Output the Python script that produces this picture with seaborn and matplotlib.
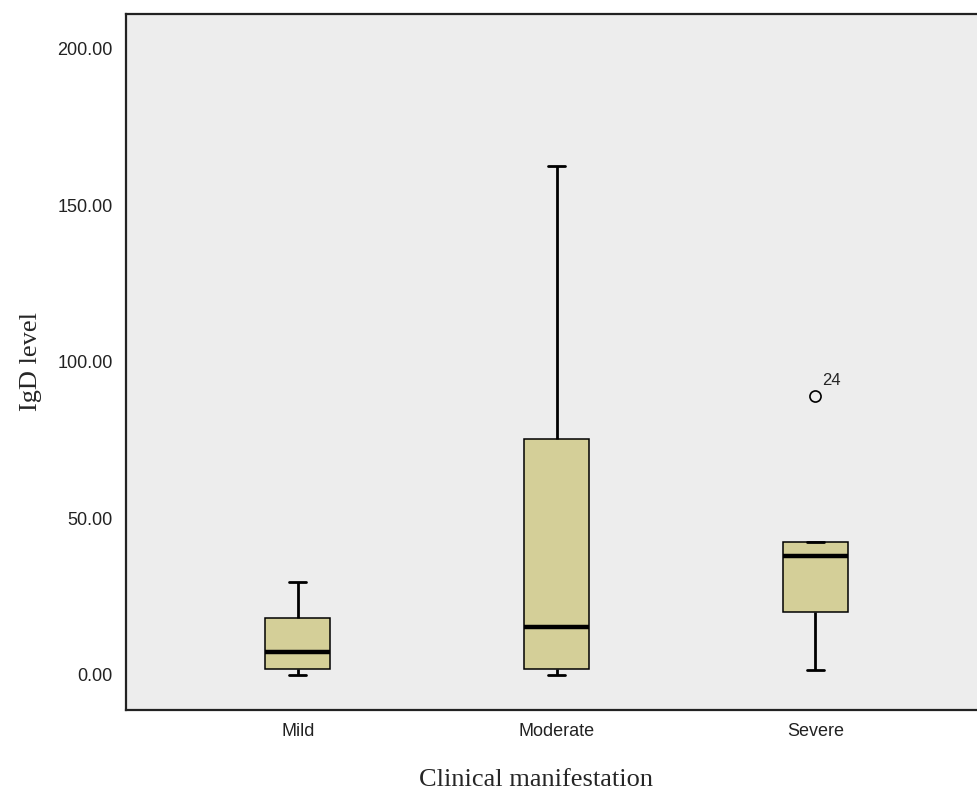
import numpy as np
import pandas as pd
import matplotlib
matplotlib.use("Agg")
import matplotlib.pyplot as plt
import seaborn as sns

categories = ["Mild", "Moderate", "Severe"]
mild_vals = [0.0, 1.9, 7.3, 18.1, 29.5]
moderate_vals = [0.0, 1.9, 15.3, 75.4, 162.7]
severe_vals = [1.6, 20.2, 20.2, 30.0, 38.1, 42.3, 42.3, 42.3, 89.2]
outlier_label = "24"
outlier_value = 89.2
yticks = [0, 50, 100, 150, 200]

df = pd.DataFrame({
    "group": (["Mild"] * len(mild_vals) + ["Moderate"] * len(moderate_vals)
              + ["Severe"] * len(severe_vals)),
    "value": mild_vals + moderate_vals + severe_vals,
})

sns.set_style("white")
plt.rcParams["font.family"] = ["Liberation Sans", "DejaVu Sans"]

fig = plt.figure(figsize=(9.77, 7.94), dpi=100)
ax = fig.add_axes([0.129, 0.106, 0.871, 0.8765])
ax.set_facecolor("#EDEDED")

sns.boxplot(data=df, x="group", y="value", order=categories, ax=ax,
            color="#D4CF98", saturation=1, width=0.25, whis=1.5,
            linecolor="black", linewidth=1.1,
            medianprops={"linewidth": 3.2, "color": "black"},
            whiskerprops={"linewidth": 2.0},
            capprops={"linewidth": 2.0},
            flierprops={"marker": "o", "markersize": 8, "markerfacecolor": "none",
                        "markeredgecolor": "black", "markeredgewidth": 1.2},
            capwidths=0.066)

ax.text(2 + 0.025, outlier_value + 2.5, outlier_label, fontsize=12, ha="left", va="bottom")

ax.set_xlim(-0.664, 2.625)
ax.set_ylim(-11.2, 211.2)
ax.set_yticks(yticks)
ax.set_yticklabels([f"{v:.2f}" for v in yticks], fontsize=13)
ax.set_xticks(range(len(categories)))
ax.set_xticklabels(categories, fontsize=13)
ax.tick_params(axis="both", direction="out", length=7.5, width=1.6, color="#333333", pad=2)
ax.tick_params(axis="y", labelcolor="#222222")
ax.tick_params(axis="x", labelcolor="#222222")

for s in ["left", "bottom", "top"]:
    ax.spines[s].set_visible(True)
    ax.spines[s].set_linewidth(1.6)
    ax.spines[s].set_color("#222222")
ax.spines["right"].set_visible(False)

ax.set_xlabel("Clinical manifestation", fontsize=19, family="Liberation Serif", labelpad=20)
ax.xaxis.set_label_coords((535.5 - 126) / 851, -0.085)
ax.set_ylabel("IgD level", fontsize=19, family="Liberation Serif", labelpad=11)

fig.savefig("out.png", dpi=100)
